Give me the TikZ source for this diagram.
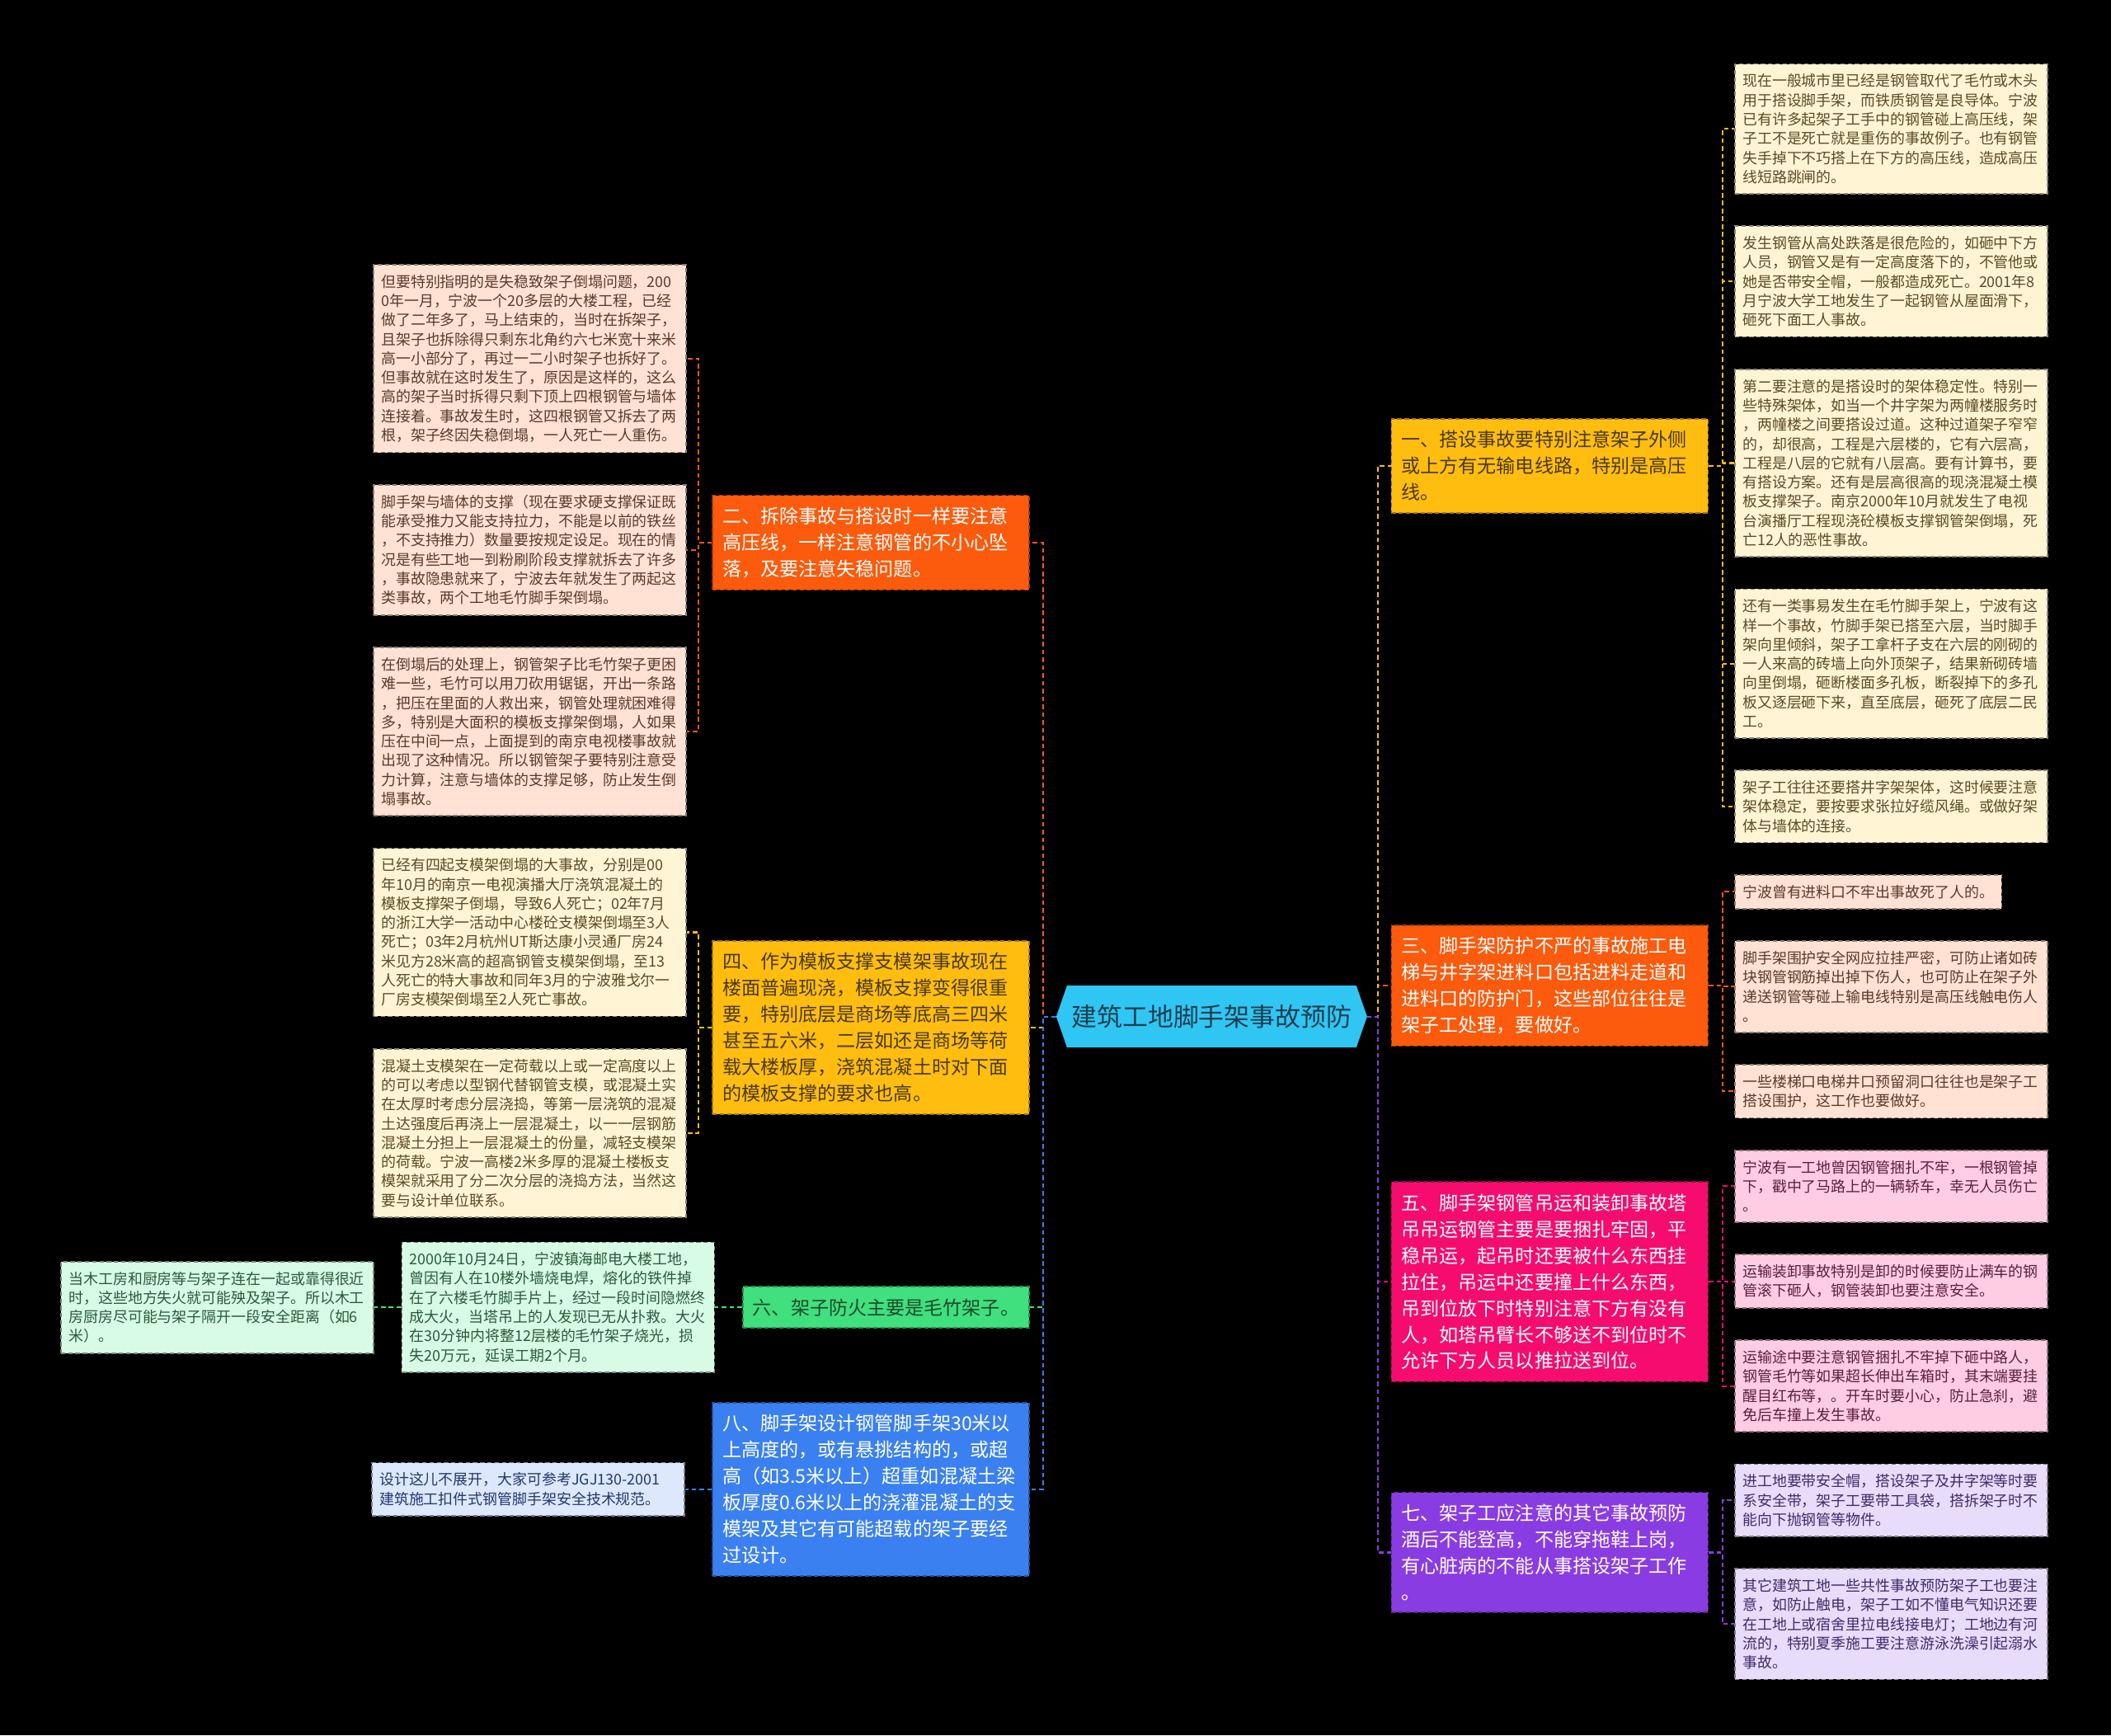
\documentclass[tikz,border=0pt]{standalone}
\usepackage{fontspec}
\newfontfamily\cjk{Noto Sans CJK SC}
\usetikzlibrary{positioning,backgrounds}

\definecolor{rootC}{HTML}{2FC6F4}
\definecolor{rootT}{HTML}{1D3E4E}
\definecolor{ylw}{HTML}{FFBD10}
\definecolor{org}{HTML}{FC5A0C}
\definecolor{mag}{HTML}{F50C6E}
\definecolor{pur}{HTML}{8A3CE3}
\definecolor{grn}{HTML}{3FE07D}
\definecolor{blu}{HTML}{3A80F0}
\definecolor{ylwL}{HTML}{FFF5D5}
\definecolor{orgL}{HTML}{FFE2D3}
\definecolor{magL}{HTML}{FFCDE3}
\definecolor{purL}{HTML}{E7DCFA}
\definecolor{grnL}{HTML}{D8FBE5}
\definecolor{bluL}{HTML}{DDE8FD}
\definecolor{ylwT}{HTML}{5C4A23}
\definecolor{orgT}{HTML}{5A3A2A}
\definecolor{magT}{HTML}{5A1E3C}
\definecolor{purT}{HTML}{3E2C6A}
\definecolor{grnT}{HTML}{2A5A3A}
\definecolor{bluT}{HTML}{23386A}
\definecolor{ylwD}{HTML}{4A3A12}
\definecolor{grnD}{HTML}{1F4A2C}

\newcommand\leaffont{\cjk\fontsize{5.1pt}{6.63pt}\selectfont}
\newcommand\branchfont{\cjk\fontsize{6.57pt}{9.1pt}\selectfont}
\newcommand\rootfont{\cjk\fontsize{8.8pt}{10pt}\selectfont}

\tikzset{
  leaf/.style={fill=#1L, draw=#1L!55!black, text=#1T, font=\leaffont,
    inner xsep=0.095cm, inner ysep=3.45pt, align=left,
    line width=0.5pt, dash pattern=on 1.5pt off 1pt},
  branch/.style={fill=#1, draw=#1!65!black, font=\branchfont,
    inner xsep=0.12cm, inner ysep=4.1pt, align=left,
    line width=0.5pt, dash pattern=on 1.5pt off 1pt},
  wide/.style={text width=3.6cm},
  stackR/.style={below=of #1.south west, anchor=north west},
  stackL/.style={below=of #1.south east, anchor=north east},
  lk/.style={draw=#1, line width=0.6pt, dash pattern=on 1.6pt off 1.1pt},
  rootbox/.style={minimum width=3.755cm, minimum height=0.735cm,
    inner sep=0pt, font=\rootfont, text=rootT}
}

\begin{document}
\begin{tikzpicture}[x=0.016327cm, y=-0.016327cm, node distance=0.3755cm]
\useasboundingbox (0,0) rectangle (1568,1289);

% centre
\node[rootbox] (root) at (900,755) {建筑工地脚手架事故预防};

% right side
\node[branch=ylw, wide, text=ylwD, anchor=west] (b1) at (1033,346) {一、搭设事故要特别注意架子外侧\\或上方有无输电线路，特别是高压\\线。};
\node[branch=org, wide, text=white, anchor=west] (b3) at (1033,732) {三、脚手架防护不严的事故施工电\\梯与井字架进料口包括进料走道和\\进料口的防护门，这些部位往往是\\架子工处理，要做好。};
\node[branch=mag, wide, text=white, anchor=west] (b5) at (1033,952) {五、脚手架钢管吊运和装卸事故塔\\吊吊运钢管主要是要捆扎牢固，平\\稳吊运，起吊时还要被什么东西挂\\拉住，吊运中还要撞上什么东西，\\吊到位放下时特别注意下方有没有\\人，如塔吊臂长不够送不到位时不\\允许下方人员以推拉送到位。};
\node[branch=pur, wide, text=white, anchor=west] (b7) at (1033,1153) {七、架子工应注意的其它事故预防\\酒后不能登高，不能穿拖鞋上岗，\\有心脏病的不能从事搭设架子工作\\。};

\node[leaf=ylw, wide, anchor=north west] (L1) at (1288,47) {现在一般城市里已经是钢管取代了毛竹或木头\\用于搭设脚手架，而铁质钢管是良导体。宁波\\已有许多起架子工手中的钢管碰上高压线，架\\子工不是死亡就是重伤的事故例子。也有钢管\\失手掉下不巧搭上在下方的高压线，造成高压\\线短路跳闸的。};
\node[leaf=ylw, wide, stackR=L1] (L2) {发生钢管从高处跌落是很危险的，如砸中下方\\人员，钢管又是有一定高度落下的，不管他或\\她是否带安全帽，一般都造成死亡。2001年8\\月宁波大学工地发生了一起钢管从屋面滑下，\\砸死下面工人事故。};
\node[leaf=ylw, wide, stackR=L2] (L3) {第二要注意的是搭设时的架体稳定性。特别一\\些特殊架体，如当一个井字架为两幢楼服务时\\，两幢楼之间要搭设过道。这种过道架子窄窄\\的，却很高，工程是六层楼的，它有六层高，\\工程是八层的它就有八层高。要有计算书，要\\有搭设方案。还有是层高很高的现浇混凝土模\\板支撑架子。南京2000年10月就发生了电视\\台演播厅工程现浇砼模板支撑钢管架倒塌，死\\亡12人的恶性事故。};
\node[leaf=ylw, wide, stackR=L3] (L4) {还有一类事易发生在毛竹脚手架上，宁波有这\\样一个事故，竹脚手架已搭至六层，当时脚手\\架向里倾斜，架子工拿杆子支在六层的刚砌的\\一人来高的砖墙上向外顶架子，结果新砌砖墙\\向里倒塌，砸断楼面多孔板，断裂掉下的多孔\\板又逐层砸下来，直至底层，砸死了底层二民\\工。};
\node[leaf=ylw, wide, stackR=L4] (L5) {架子工往往还要搭井字架架体，这时候要注意\\架体稳定，要按要求张拉好缆风绳。或做好架\\体与墙体的连接。};
\node[leaf=org, stackR=L5] (L6) {宁波曾有进料口不牢出事故死了人的。};
\node[leaf=org, wide, stackR=L6] (L7) {脚手架围护安全网应拉挂严密，可防止诸如砖\\块钢管钢筋掉出掉下伤人，也可防止在架子外\\递送钢管等碰上输电线特别是高压线触电伤人\\。};
\node[leaf=org, wide, stackR=L7] (L8) {一些楼梯口电梯井口预留洞口往往也是架子工\\搭设围护，这工作也要做好。};
\node[leaf=mag, wide, stackR=L8] (L9) {宁波有一工地曾因钢管捆扎不牢，一根钢管掉\\下，戳中了马路上的一辆轿车，幸无人员伤亡\\。};
\node[leaf=mag, wide, stackR=L9] (L10) {运输装卸事故特别是卸的时候要防止满车的钢\\管滚下砸人，钢管装卸也要注意安全。};
\node[leaf=mag, wide, stackR=L10] (L11) {运输途中要注意钢管捆扎不牢掉下砸中路人，\\钢管毛竹等如果超长伸出车箱时，其末端要挂\\醒目红布等，。开车时要小心，防止急刹，避\\免后车撞上发生事故。};
\node[leaf=pur, wide, stackR=L11] (L12) {进工地要带安全帽，搭设架子及井字架等时要\\系安全带，架子工要带工具袋，搭拆架子时不\\能向下抛钢管等物件。};
\node[leaf=pur, wide, stackR=L12] (L13) {其它建筑工地一些共性事故预防架子工也要注\\意，如防止触电，架子工如不懂电气知识还要\\在工地上或宿舍里拉电线接电灯；工地边有河\\流的，特别夏季施工要注意游泳洗澡引起溺水\\事故。};

% left side
\node[branch=org, wide, text=white, anchor=east] (b2) at (765,403) {二、拆除事故与搭设时一样要注意\\高压线，一样注意钢管的不小心坠\\落，及要注意失稳问题。};
\node[branch=ylw, wide, text=ylwD, anchor=east] (b4) at (765,763) {四、作为模板支撑支模架事故现在\\楼面普遍现浇，模板支撑变得很重\\要，特别底层是商场等底高三四米\\甚至五六米，二层如还是商场等荷\\载大楼板厚，浇筑混凝土时对下面\\的模板支撑的要求也高。};
\node[branch=grn, text=grnD, anchor=east] (b6) at (765,971) {六、架子防火主要是毛竹架子。};
\node[branch=blu, wide, text=white, anchor=east] (b8) at (765,1106) {八、脚手架设计钢管脚手架30米以\\上高度的，或有悬挑结构的，或超\\高（如3.5米以上）超重如混凝土梁\\板厚度0.6米以上的浇灌混凝土的支\\模架及其它有可能超载的架子要经\\过设计。};

\node[leaf=org, wide, anchor=north east] (A1) at (510,196) {但要特别指明的是失稳致架子倒塌问题，200\\0年一月，宁波一个20多层的大楼工程，已经\\做了二年多了，马上结束的，当时在拆架子，\\且架子也拆除得只剩东北角约六七米宽十来米\\高一小部分了，再过一二小时架子也拆好了。\\但事故就在这时发生了，原因是这样的，这么\\高的架子当时拆得只剩下顶上四根钢管与墙体\\连接着。事故发生时，这四根钢管又拆去了两\\根，架子终因失稳倒塌，一人死亡一人重伤。};
\node[leaf=org, wide, stackL=A1] (A2) {脚手架与墙体的支撑（现在要求硬支撑保证既\\能承受推力又能支持拉力，不能是以前的铁丝\\，不支持推力）数量要按规定设足。现在的情\\况是有些工地一到粉刷阶段支撑就拆去了许多\\，事故隐患就来了，宁波去年就发生了两起这\\类事故，两个工地毛竹脚手架倒塌。};
\node[leaf=org, wide, stackL=A2] (A3) {在倒塌后的处理上，钢管架子比毛竹架子更困\\难一些，毛竹可以用刀砍用锯锯，开出一条路\\，把压在里面的人救出来，钢管处理就困难得\\多，特别是大面积的模板支撑架倒塌，人如果\\压在中间一点，上面提到的南京电视楼事故就\\出现了这种情况。所以钢管架子要特别注意受\\力计算，注意与墙体的支撑足够，防止发生倒\\塌事故。};
\node[leaf=ylw, wide, stackL=A3] (B1) {已经有四起支模架倒塌的大事故，分别是00\\年10月的南京一电视演播大厅浇筑混凝土的\\模板支撑架子倒塌，导致6人死亡；02年7月\\的浙江大学一活动中心楼砼支模架倒塌至3人\\死亡；03年2月杭州UT斯达康小灵通厂房24\\米见方28米高的超高钢管支模架倒塌，至13\\人死亡的特大事故和同年3月的宁波雅戈尔一\\厂房支模架倒塌至2人死亡事故。};
\node[leaf=ylw, wide, stackL=B1] (B2) {混凝土支模架在一定荷载以上或一定高度以上\\的可以考虑以型钢代替钢管支模，或混凝土实\\在太厚时考虑分层浇捣，等第一层浇筑的混凝\\土达强度后再浇上一层混凝土，以一一层钢筋\\混凝土分担上一层混凝土的份量，减轻支模架\\的荷载。宁波一高楼2米多厚的混凝土楼板支\\模架就采用了分二次分层的浇捣方法，当然这\\要与设计单位联系。};
\node[leaf=grn, wide, left=0.327cm of b6] (C1) {2000年10月24日，宁波镇海邮电大楼工地，\\曾因有人在10楼外墙烧电焊，熔化的铁件掉\\在了六楼毛竹脚手片上，经过一段时间隐燃终\\成大火，当塔吊上的人发现已无从扑救。大火\\在30分钟内将整12层楼的毛竹架子烧光，损\\失20万元，延误工期2个月。};
\node[leaf=grn, wide, left=0.327cm of C1] (C2) {当木工房和厨房等与架子连在一起或靠得很近\\时，这些地方失火就可能殃及架子。所以木工\\房厨房尽可能与架子隔开一段安全距离（如6\\米）。};
\node[leaf=blu, wide, left=0.327cm of b8] (D1) {设计这儿不展开，大家可参考JGJ130-2001\\建筑施工扣件式钢管脚手架安全技术规范。};

\begin{scope}[on background layer]
\fill[black] (0,0) rectangle (1568,1289);
\fill[rootC] (root.west) -- ([xshift=0.13cm]root.north west) -- ([xshift=-0.13cm]root.north east)
  -- (root.east) -- ([xshift=-0.13cm]root.south east) -- ([xshift=0.13cm]root.south west) -- cycle;
\end{scope}

% centre to branches
\draw[lk=org] (root.east) -- ++(8,0) |- (b3.west);
\draw[lk=ylw] (root.east) -- ++(8,0) |- (b1.west);
\draw[lk=mag] (root.east) -- ++(8,0) |- (b5.west);
\draw[lk=pur] (root.east) -- ++(8,0) |- (b7.west);
\draw[lk=org] (root.west) -- ++(-10,0) |- (b2.east);
\draw[lk=ylw] (root.west) -- ++(-10,0) |- (b4.east);
\draw[lk=grn] (root.west) -- ++(-10,0) |- (b6.east);
\draw[lk=blu] (root.west) -- ++(-10,0) |- (b8.east);

% branches to leaves
\foreach \n in {1,...,5} \draw[lk=ylw] (b1.east) -- ++(10,0) |- (L\n.west);
\foreach \n in {6,7,8} \draw[lk=org] (b3.east) -- ++(10,0) |- (L\n.west);
\foreach \n in {9,10,11} \draw[lk=mag] (b5.east) -- ++(10,0) |- (L\n.west);
\foreach \n in {12,13} \draw[lk=pur] (b7.east) -- ++(10,0) |- (L\n.west);
\foreach \n in {1,2,3} \draw[lk=org] (b2.west) -- ++(-10,0) |- (A\n.east);
\foreach \n in {1,2} \draw[lk=ylw] (b4.west) -- ++(-10,0) |- (B\n.east);
\draw[lk=grn] (b6.west) -- (C1.east);
\draw[lk=grn] (C1.west) -- (C2.east);
\draw[lk=blu] (b8.west) -- (D1.east);
\end{tikzpicture}
\end{document}
